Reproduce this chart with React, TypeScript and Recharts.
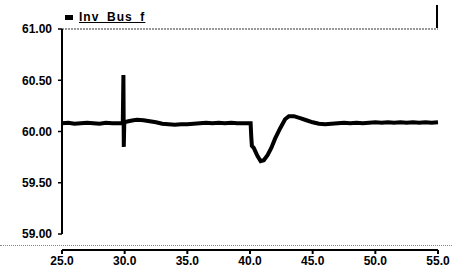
import React from "react";
import { LineChart, Line, XAxis, YAxis, ReferenceLine } from "recharts";

const times = [
  25, 25.5, 26, 26.5, 27, 27.5, 28, 28.5, 29, 29.5, 29.85, 29.9, 29.93, 29.97,
  30.3, 30.7, 31, 31.5, 32, 32.5, 33, 33.5, 34, 34.5, 35, 35.5, 36, 36.5, 37, 37.5,
  38, 38.5, 39, 39.5, 40.05, 40.1, 40.15, 40.3, 40.6, 40.85, 41.1, 41.4, 41.7, 42.0,
  42.4, 42.8, 43.1, 43.5, 44.0, 44.5, 45.0, 45.5, 46, 46.5, 47, 47.5, 48, 48.5, 49,
  49.5, 50, 50.5, 51, 51.5, 52, 52.5, 53, 53.5, 54, 54.5, 55,
];
const freq = [
  60.08, 60.085, 60.075, 60.08, 60.085, 60.08, 60.075, 60.085, 60.08, 60.08, 60.08, 60.55, 59.85, 60.09,
  60.1, 60.11, 60.115, 60.11, 60.1, 60.09, 60.075, 60.07, 60.065, 60.07, 60.07, 60.075, 60.08, 60.085, 60.08, 60.085,
  60.08, 60.085, 60.08, 60.08, 60.08, 59.95, 59.86, 59.84, 59.76, 59.71, 59.72, 59.77, 59.84, 59.93,
  60.03, 60.12, 60.15, 60.15, 60.13, 60.11, 60.09, 60.075, 60.07, 60.075, 60.08, 60.085, 60.08, 60.085, 60.08,
  60.085, 60.09, 60.085, 60.09, 60.085, 60.09, 60.085, 60.09, 60.085, 60.09, 60.085, 60.09,
];
const xTicks = [25, 30, 35, 40, 45, 50, 55];
const yTicks = [59, 59.5, 60, 60.5, 61];
const seriesName = "Inv_Bus_f";

const data = times.map((t, i) => ({ t, f: freq[i] }));

const font = "'Liberation Sans', Arial, sans-serif";

export default function App() {
  return (
    <div style={{ position: "absolute", left: 0, top: 0, width: 452, height: 268, background: "#fff" }}>
      <LineChart width={452} height={268} data={data} margin={{ top: 29, right: 14, bottom: 0, left: 0 }}>
        <XAxis
          dataKey="t"
          type="number"
          domain={[25, 55]}
          ticks={xTicks}
          tickFormatter={(v: number) => v.toFixed(1)}
          height={18}
          tickSize={4}
          tickMargin={2}
          axisLine={{ stroke: "#000", strokeWidth: 2 }}
          tickLine={{ stroke: "#000", strokeWidth: 2 }}
          tick={{ fill: "#000", fontSize: 12, fontWeight: "bold", fontFamily: font }}
        />
        <YAxis
          type="number"
          domain={[58.844, 61]}
          allowDataOverflow
          ticks={yTicks}
          tickFormatter={(v: number) => v.toFixed(2)}
          width={62}
          tickSize={4}
          tickMargin={6}
          axisLine={false}
          tickLine={{ stroke: "#000", strokeWidth: 1.5 }}
          tick={{ fill: "#000", fontSize: 12, fontWeight: "bold", fontFamily: font }}
        />
        <ReferenceLine y={61} stroke="#777" strokeDasharray="2 1" strokeWidth={1.5} />
        <ReferenceLine
          segment={[{ x: 25, y: 59 }, { x: 25, y: 61 }]}
          stroke="#000"
          strokeWidth={2}
        />
        <Line
          dataKey="f"
          name={seriesName}
          stroke="#000"
          strokeWidth={4}
          dot={false}
          isAnimationActive={false}
        />
      </LineChart>
      <div
        style={{
          position: "absolute",
          left: 65,
          top: 10,
          display: "flex",
          alignItems: "center",
          fontFamily: font,
        }}
      >
        <span style={{ display: "inline-block", width: 8, height: 5, background: "#000", marginRight: 6 }} />
        <span style={{ fontSize: 12, fontWeight: "bold", textDecoration: "underline", letterSpacing: 1, color: "#000" }}>
          {seriesName}
        </span>
      </div>
      <div
        style={{
          position: "absolute",
          left: 0,
          top: 245,
          width: 452,
          height: 0,
          borderTop: "1px dotted #888",
        }}
      />
      <div
        style={{
          position: "absolute",
          left: 436,
          top: 5,
          width: 2,
          height: 23,
          background: "#000",
        }}
      />
    </div>
  );
}
